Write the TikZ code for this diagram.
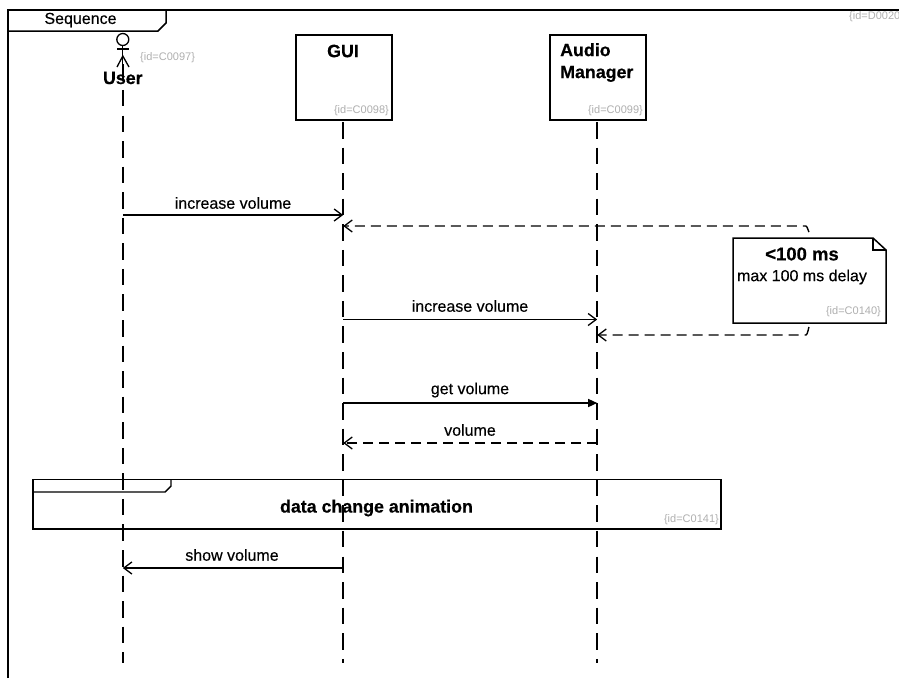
\documentclass[tikz,border=0pt]{standalone}
\usepackage{fontspec}
\setmainfont[FakeBold=0.35,BoldFeatures={FakeBold=0.5}]{Liberation Sans}
\newfontfamily\idfont{Liberation Sans}
\usetikzlibrary{arrows.meta,positioning,calc}
\definecolor{idgray}{RGB}{175,175,175}
\begin{document}
\begin{tikzpicture}
  [x=1pt,y=-1pt,
   lifeN/.style={draw,line width=1.5pt,fill=white,minimum width=96pt,minimum height=85pt,inner sep=0pt},
   idT/.style={text=idgray,font=\idfont\fontsize{11}{13}\selectfont,inner sep=0pt},
   titleT/.style={font=\fontsize{17.8}{22}\selectfont\bfseries,inner sep=0pt,align=left},
   msgT/.style={font=\fontsize{16}{18}\selectfont,inner sep=0pt},
   lifeL/.style={line width=1.5pt,dash pattern=on 16.5pt off 9.06pt},
   msgL/.style={line width=1.4pt},
   openA/.style={-{Straight Barb[length=8pt,width=12pt,line width=1.3pt]}},
   replyL/.style={line width=1.4pt,dash pattern=on 10pt off 6pt}]

  \useasboundingbox (0,0) rectangle (899,678);

  % lifelines
  \coordinate (userTop) at (122.8,64.4);
  \coordinate (userEnd) at (122.8,663);
  \coordinate (guiTop) at (343.2,122);
  \coordinate (guiEnd) at (343.2,663);
  \coordinate (audioTop) at (597.2,122);
  \coordinate (audioEnd) at (597.2,663);
  \draw[lifeL] (userTop) -- (userEnd);
  \draw[lifeL] (guiTop) -- (guiEnd);
  \draw[lifeL] (audioTop) -- (audioEnd);

  % frame
  \draw[line width=1.5pt] (8.2,678) -- (8.2,10) -- (899,10);
  \draw[line width=1.5pt] (8.2,31) -- (158,31) -- (166,23) -- (166,10);
  \node[msgT] (frameT) at (80.5,20) {Sequence};
  \node[idT,anchor=west] (frameId) at (849,17) {\{id=D0020\}};

  % lifeline heads
  \node[lifeN,anchor=north west] (gui) at (295,34) {};
  \node[lifeN,anchor=north west] (audio) at (549,34) {};
  \node[titleT] (guiT) at (343,51) {GUI};
  \node[titleT,anchor=north west] (audioT) at (560,43) {Audio\\Manager};
  \node[idT,anchor=south east] (guiId) at (389,116) {\{id=C0098\}};
  \node[idT,anchor=south east] (audioId) at (643,116) {\{id=C0099\}};

  % actor
  \draw[line width=1.3pt] (122.8,39.5) circle (6pt);
  \draw[line width=1.3pt] (122.8,45.5) -- (122.8,65);
  \draw[line width=1.3pt] (117,49) -- (129,49);
  \draw[line width=1.3pt] (117,67) -- (122.8,56) -- (129,67);
  \node[titleT] (userT) at (122.8,78) {User};
  \node[idT,anchor=west] (userId) at (140,58) {\{id=C0097\}};

  % messages
  \coordinate (m1a) at (122.8,215);
  \coordinate (m1b) at (343.2,215);
  \draw[msgL,openA] (m1a) -- (m1b);
  \node[msgT] (m1T) at (233,203) {increase volume};

  \coordinate (m2a) at (343.2,319.5);
  \coordinate (m2b) at (597.2,319.5);
  \draw[msgL,openA] (m2a) -- (m2b);
  \node[msgT] (m2T) at (470,306) {increase volume};

  \coordinate (m3a) at (343.2,403);
  \coordinate (m3b) at (597.2,403);
  \draw[msgL,-{Triangle[length=9pt,width=8pt]}] (m3a) -- (m3b);
  \node[msgT] (m3T) at (470,390) {get volume};

  \coordinate (m4a) at (597.2,443);
  \coordinate (m4b) at (343.2,443);
  \draw[replyL,openA] (m4a) -- (m4b);
  \node[msgT] (m4T) at (470,430) {volume};

  \coordinate (m5a) at (343.2,568);
  \coordinate (m5b) at (122.8,568);
  \draw[msgL,openA] (m5a) -- (m5b);
  \node[msgT] (m5T) at (232,555) {show volume};

  % note
  \draw[line width=1.5pt,fill=white] (733,238) -- (873,238) -- (886,250) -- (886,323) -- (733,323) -- cycle;
  \draw[line width=1.2pt] (873,238) -- (873,250) -- (886,250);
  \node[titleT,font=\fontsize{18.5}{22}\selectfont\bfseries] (noteT) at (802,254) {<100 ms};
  \node[msgT] (noteD) at (802,277) {max 100 ms delay};
  \node[idT,anchor=south east] (noteId) at (881,317) {\{id=C0140\}};

  \coordinate (noteTop) at (809,232);
  \coordinate (noteBot) at (809,327);
  \draw[replyL,openA] (noteTop) to[out=-90,in=0,looseness=0.5] (806,226) -- (343.2,226);
  \draw[replyL,openA] (noteBot) to[out=90,in=0,looseness=0.5] (806,335) -- (597.2,335);

  % ref
  \draw[line width=1.4pt] (33,479.5) rectangle (721,529);
  \draw[line width=1.4pt] (33,492) -- (165,492) -- (171,486) -- (171,479.5);
  \node[titleT] (refT) at (376.5,508) {data change animation};
  \node[idT,anchor=south east] (refId) at (719,525) {\{id=C0141\}};
\end{tikzpicture}
\end{document}
